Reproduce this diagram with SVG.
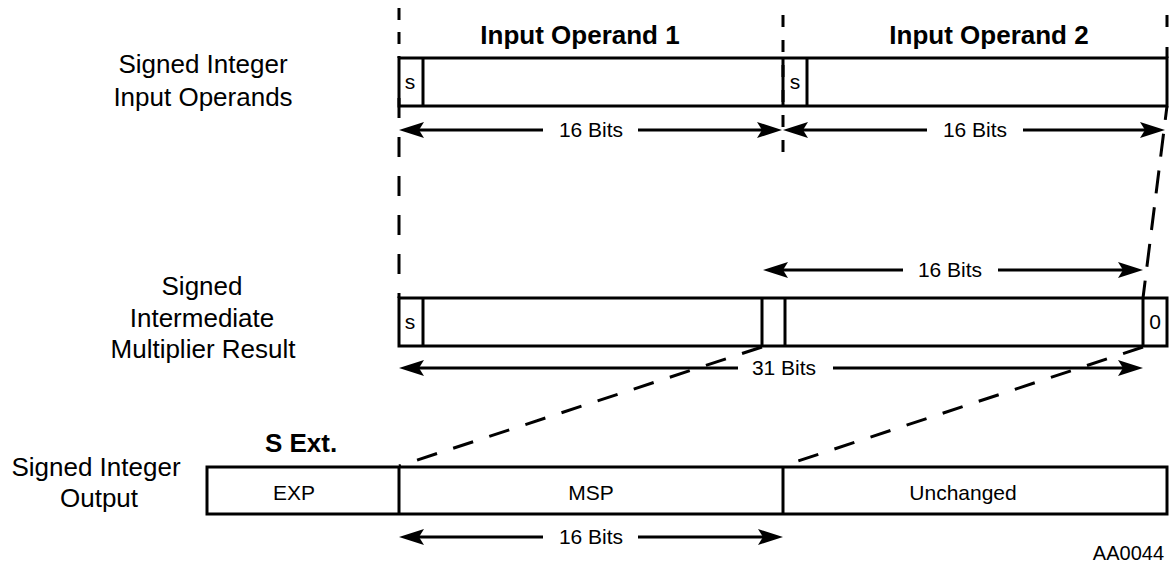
<svg xmlns="http://www.w3.org/2000/svg" width="1169" height="567" viewBox="0 0 1169 567">
<style>
text{font-family:"Liberation Sans",Arial,sans-serif;fill:#000}
.lbl{font-size:26px;text-anchor:middle}
.hdr{font-size:26px;font-weight:bold;text-anchor:middle}
.sm{font-size:21px;text-anchor:middle}
.box{fill:#fff;stroke:#000;stroke-width:3}
.div{stroke:#000;stroke-width:3}
.arr{stroke:#000;stroke-width:3;fill:none;marker-end:url(#ah)}
.dash{stroke:#000;stroke-width:3;fill:none}
</style>
<defs>
<marker id="ah" viewBox="0 0 25 16" markerWidth="25" markerHeight="16" refX="15" refY="8" orient="auto" markerUnits="userSpaceOnUse">
<path d="M0,0 L25,8 L0,16 L5,8 z" fill="#000"/>
</marker>
</defs>
<rect width="1169" height="567" fill="#fff"/>

<g id="labels">
<text class="lbl" x="203" y="73">Signed Integer</text>
<text class="lbl" x="203" y="106">Input Operands</text>
<text class="lbl" x="202" y="295">Signed</text>
<text class="lbl" x="202" y="327">Intermediate</text>
<text class="lbl" x="203" y="358">Multiplier Result</text>
<text class="lbl" x="96" y="476">Signed Integer</text>
<text class="lbl" x="99" y="507">Output</text>
<text class="hdr" x="580" y="44">Input Operand 1</text>
<text class="hdr" x="989" y="44">Input Operand 2</text>
<text class="hdr" x="301" y="452">S Ext.</text>
<text x="1164" y="560" style="font-size:20px;text-anchor:end">AA0044</text>
</g>

<g id="input-operands">
<rect class="box" x="399" y="58" width="768" height="48"/>
<line class="div" x1="423" y1="58" x2="423" y2="106"/>
<line class="div" x1="783" y1="58" x2="783" y2="106"/>
<line class="div" x1="807" y1="58" x2="807" y2="106"/>
<text class="sm" x="410" y="89">s</text>
<text class="sm" x="795" y="89">s</text>
</g>

<g id="intermediate-result">
<rect class="box" x="399" y="298" width="768" height="48"/>
<line class="div" x1="423" y1="298" x2="423" y2="346"/>
<line class="div" x1="762" y1="298" x2="762" y2="346"/>
<line class="div" x1="785" y1="298" x2="785" y2="346"/>
<line class="div" x1="1143" y1="298" x2="1143" y2="346"/>
<text class="sm" x="410" y="329">s</text>
<text class="sm" x="1155" y="329">0</text>
</g>

<g id="output">
<rect class="box" x="207" y="467" width="960" height="47"/>
<line class="div" x1="399" y1="467" x2="399" y2="514"/>
<line class="div" x1="783" y1="467" x2="783" y2="514"/>
<text class="sm" x="294" y="500">EXP</text>
<text class="sm" x="591" y="500">MSP</text>
<text class="sm" x="963" y="500">Unchanged</text>
</g>

<g id="connectors">
<line class="dash" x1="399" y1="8" x2="399" y2="58" stroke-dasharray="12 12"/>
<line class="dash" x1="399" y1="98" x2="399" y2="298" stroke-dasharray="20 19"/>
<line class="dash" x1="783" y1="15" x2="783" y2="152" stroke-dasharray="12 13"/>
<line class="dash" x1="1167" y1="15" x2="1167" y2="58" stroke-dasharray="12 20"/>
<line class="dash" x1="1167" y1="106" x2="1143" y2="298" stroke-dasharray="23 14" stroke-dashoffset="9"/>
<line class="dash" x1="762" y1="347" x2="399" y2="466" stroke-dasharray="21 17"/>
<line class="dash" x1="1143" y1="347" x2="783" y2="466" stroke-dasharray="21 17"/>

<path class="arr" d="M543,130 H409"/>
<path class="arr" d="M638,130 H772"/>
<text class="sm" x="591" y="137">16 Bits</text>
<path class="arr" d="M927,130 H793"/>
<path class="arr" d="M1023,130 H1155"/>
<text class="sm" x="975" y="137">16 Bits</text>

<path class="arr" d="M903,270 H773"/>
<path class="arr" d="M998,270 H1133"/>
<text class="sm" x="950" y="277">16 Bits</text>

<path class="arr" d="M738,368 H409"/>
<path class="arr" d="M833,368 H1133"/>
<text class="sm" x="784" y="375">31 Bits</text>

<path class="arr" d="M543,537 H409"/>
<path class="arr" d="M638,537 H773"/>
<text class="sm" x="591" y="544">16 Bits</text>
</g>
</svg>
